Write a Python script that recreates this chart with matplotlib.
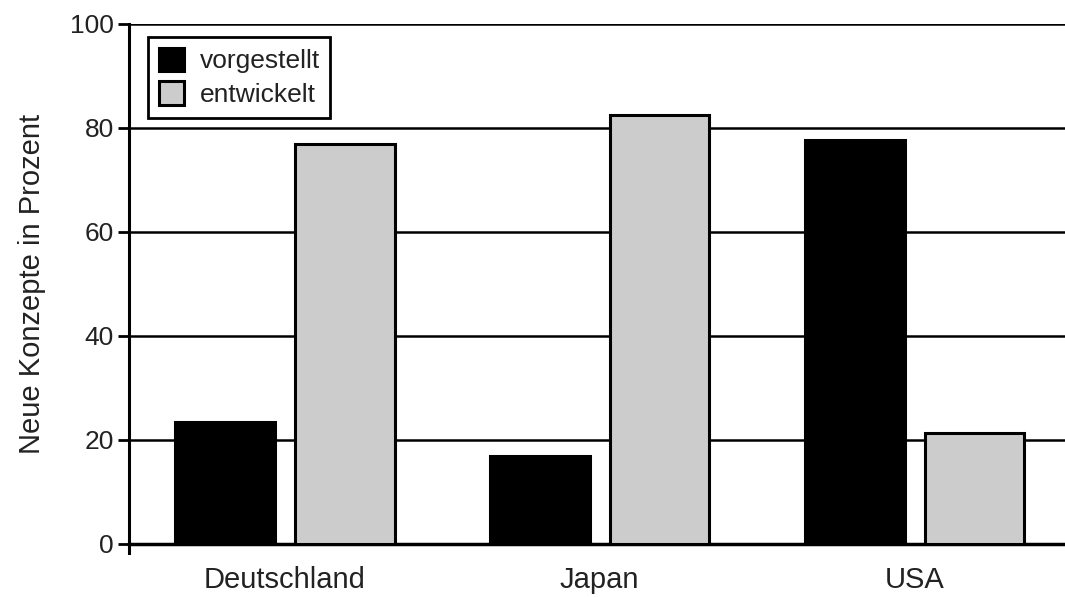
import matplotlib
matplotlib.use('Agg')
import matplotlib.pyplot as plt
import numpy as np

# Anteil neuer Konzepte je Land
laender = ["Deutschland", "Japan", "USA"]
vorgestellt = [23.5, 17, 77.7]
entwickelt = [77, 82.5, 21.3]
yticks = [0, 20, 40, 60, 80, 100]

plt.rcParams['font.family'] = ['Liberation Sans', 'DejaVu Sans']

fig = plt.figure(figsize=(10.65, 5.97), dpi=100)
ax = fig.add_axes([0.1211, 0.0888, 0.879, 0.871])

x = np.arange(len(laender))
breite = 0.317
versatz = 0.19

ax.bar(x - versatz, vorgestellt, breite, color='black', edgecolor='black',
       linewidth=2.2, label='vorgestellt', zorder=3)
ax.bar(x + versatz, entwickelt, breite, color='#cccccc', edgecolor='black',
       linewidth=2.2, label='entwickelt', zorder=3)

ax.set_xlim(-0.495, 2.478)
ax.set_ylim(0, 100)
ax.set_yticks(yticks)
ax.set_xticks(x)
ax.set_xticklabels(laender, fontsize=21, color='#222222')
ax.tick_params(axis='x', length=0, pad=16)
ax.tick_params(axis='y', direction='out', length=8, width=2,
               labelsize=19, labelcolor='#222222', pad=3)

# horizontale Linien bei 20..100
for y in yticks[1:]:
    ax.axhline(y, color='black', linewidth=1.8, zorder=1)

ax.spines['top'].set_visible(False)
ax.spines['right'].set_visible(False)
ax.spines['left'].set_linewidth(2.2)
ax.spines['left'].set_bounds(-1.8, 100)
ax.spines['bottom'].set_linewidth(2.5)

ax.set_ylabel('Neue Konzepte in Prozent', fontsize=21, color='#222222',
              labelpad=17)

leg = ax.legend(loc='upper left', bbox_to_anchor=(0.0203, 0.975),
                borderaxespad=0, fontsize=19, frameon=True, fancybox=False,
                edgecolor='black', framealpha=1, handlelength=0.95,
                handleheight=1.0, handletextpad=0.6, borderpad=0.4,
                labelspacing=0.3)
leg.get_frame().set_linewidth(2)
for t in leg.get_texts():
    t.set_color('#222222')

fig.savefig('out.png', dpi=100)
